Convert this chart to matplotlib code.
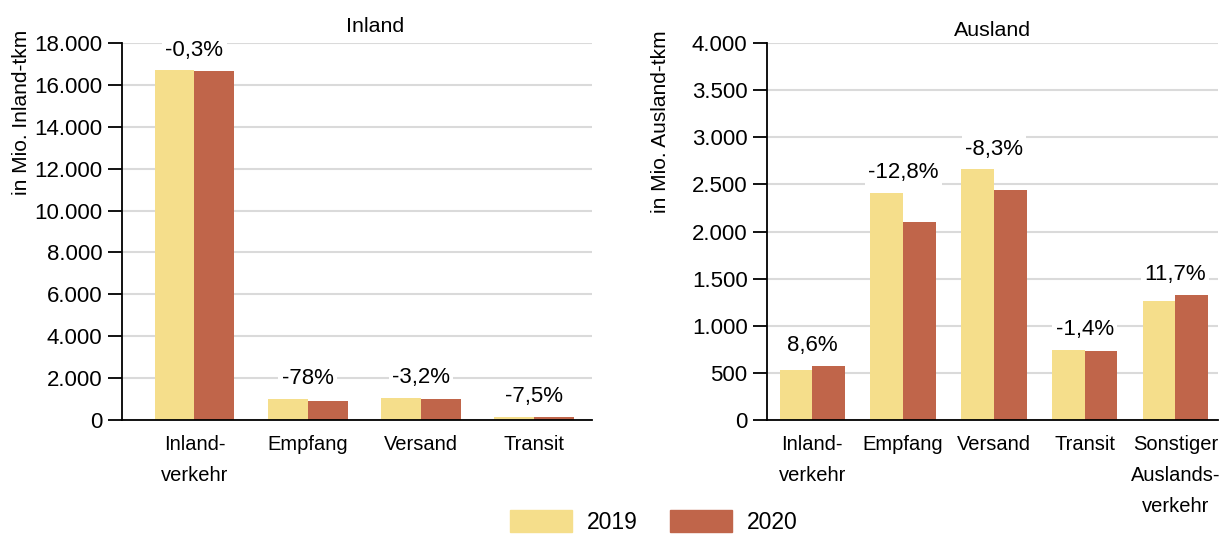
import numpy as np
import matplotlib.pyplot as plt
from matplotlib.patches import Patch
from matplotlib.ticker import FuncFormatter

plt.rcParams['font.family'] = ['Liberation Sans', 'DejaVu Sans']

c2019 = '#F5DE8B'
c2020 = '#C0654A'

inland_cats = ['Inland-\nverkehr', 'Empfang', 'Versand', 'Transit']
inland_2019 = [16700, 1000, 1050, 150]
inland_2020 = [16650, 910, 1000, 140]
inland_pct = ['-0,3%', '-78%', '-3,2%', '-7,5%']

ausland_cats = ['Inland-\nverkehr', 'Empfang', 'Versand', 'Transit',
                'Sonstiger\nAuslands-\nverkehr']
ausland_2019 = [527, 2410, 2660, 747, 1265]
ausland_2020 = [572, 2100, 2440, 737, 1330]
ausland_pct = ['8,6%', '-12,8%', '-8,3%', '-1,4%', '11,7%']

fmt = FuncFormatter(lambda v, p: f"{int(v):,}".replace(",", "."))


def draw(ax, cats, v1, v2, pct, width, ymax, step, xlim):
    x = np.arange(len(cats))
    ax.bar(x - width / 2, v1, width, color=c2019, zorder=2)
    ax.bar(x + width / 2, v2, width, color=c2020, zorder=2)
    for xi, a, b, t in zip(x, v1, v2, pct):
        ax.annotate(t, (xi, max(a, b)), xytext=(0, 14.5), textcoords='offset points',
                    ha='center', va='center', fontsize=16, zorder=3,
                    bbox=dict(boxstyle='square,pad=0.15', fc='white', ec='none'))
    ax.set_xlim(*xlim)
    ax.set_ylim(0, ymax)
    ax.set_yticks(np.arange(0, ymax + 1, step))
    ax.yaxis.set_major_formatter(fmt)
    ax.set_xticks(x)
    ax.set_xticklabels(cats, fontsize=14.5, linespacing=1.78)
    ax.tick_params(axis='x', length=0, pad=11)
    ax.tick_params(axis='y', length=10, width=1.3, labelsize=16, pad=4)
    ax.grid(axis='y', color='#DADADA', linewidth=1.5, zorder=0)
    ax.set_axisbelow(True)
    for s in ['top', 'right']:
        ax.spines[s].set_visible(False)
    for s in ['left', 'bottom']:
        ax.spines[s].set_linewidth(1.3)


fig = plt.figure(figsize=(12.21, 5.35), dpi=100)
ax1 = fig.add_axes([122 / 1221, 1 - 420 / 535, 470 / 1221, 377 / 535])
ax2 = fig.add_axes([767 / 1221, 1 - 420 / 535, 451 / 1221, 377 / 535])

draw(ax1, inland_cats, inland_2019, inland_2020, inland_pct, 0.353, 18000, 2000, (-0.64, 3.51))
draw(ax2, ausland_cats, ausland_2019, ausland_2020, ausland_pct, 0.36, 4000, 500, (-0.5, 4.47))

fig.text(375 / 1221, 1 - 27 / 535, 'Inland', ha='center', va='center', fontsize=15.4)
fig.text(993 / 1221, 1 - 30 / 535, 'Ausland', ha='center', va='center', fontsize=15.4)
fig.text(22 / 1221, 1 - 30 / 535, 'in Mio. Inland-tkm', rotation=90,
         ha='center', va='top', fontsize=15)
fig.text(661 / 1221, 1 - 30 / 535, 'in Mio. Ausland-tkm', rotation=90,
         ha='center', va='top', fontsize=15)

handles = [Patch(color=c2019, label='2019'), Patch(color=c2020, label='2020')]
fig.legend(handles=handles, loc='center', bbox_to_anchor=(654 / 1221, 1 - 522 / 535),
           ncol=2, frameon=False, fontsize=16.5, handlelength=2.7, handleheight=1.09,
           handletextpad=0.65, columnspacing=1.4, borderpad=0.1)

fig.savefig('out.png', dpi=100)
